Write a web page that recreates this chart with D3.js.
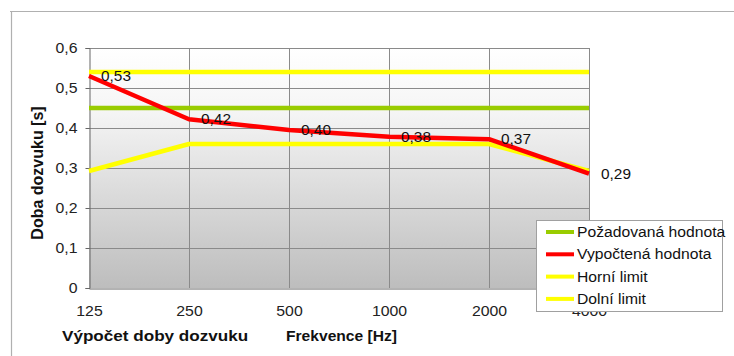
<!DOCTYPE html>
<html>
<head>
<meta charset="utf-8">
<script src="https://cdn.jsdelivr.net/npm/d3@7"></script>
<style>
html,body{margin:0;padding:0;background:#fff;}
svg{display:block;font-family:"Liberation Sans",Arial,sans-serif;}
</style>
</head>
<body>
<svg id="chart" width="734" height="356"></svg>
<script>
const categories = ["125", "250", "500", "1000", "2000", "4000"];
const pozadovana = [0.45, 0.45, 0.45, 0.45, 0.45, 0.45];
const vypoctena = [0.53, 0.422, 0.395, 0.378, 0.372, 0.286];
const horniLimit = [0.54, 0.54, 0.54, 0.54, 0.54, 0.54];
const dolniLimit = [0.2925, 0.36, 0.36, 0.36, 0.36, 0.2925];
const yTicks = [0, 0.1, 0.2, 0.3, 0.4, 0.5, 0.6];
const seriesNames = ["Požadovaná hodnota", "Vypočtená hodnota", "Horní limit", "Dolní limit"];
const seriesColors = ["#99cc00", "#ff0000", "#ffff00", "#ffff00"];

const svg = d3.select("#chart");
const pLeft = 89, pRight = 589, pTop = 48, pBottom = 288;
const x = d3.scalePoint().domain(categories).range([pLeft, pRight]);
const y = d3.scaleLinear().domain([0, 0.6]).range([pBottom, pTop]);
const fmt = v => d3.format(".2f")(v).replace(".", ",");

function stretch(sel, k) {
  sel.each(function () {
    const w = this.getComputedTextLength();
    d3.select(this).attr("textLength", w * k).attr("lengthAdjust", "spacingAndGlyphs");
  });
}

// outer frame
svg.append("line").attr("x1", 10).attr("x2", 734).attr("y1", 11.5).attr("y2", 11.5).attr("stroke", "#b0b0b0").attr("stroke-width", 1.2);
svg.append("line").attr("x1", 11.5).attr("x2", 11.5).attr("y1", 11).attr("y2", 356).attr("stroke", "#b0b0b0").attr("stroke-width", 1.2);

// plot background gradient
const defs = svg.append("defs");
const grad = defs.append("linearGradient").attr("id", "bg").attr("x1", 0).attr("y1", 0).attr("x2", 0).attr("y2", 1);
grad.append("stop").attr("offset", "0%").attr("stop-color", "#ffffff");
grad.append("stop").attr("offset", "25%").attr("stop-color", "#f6f6f6");
grad.append("stop").attr("offset", "100%").attr("stop-color", "#bdbdbd");
svg.append("rect").attr("x", pLeft).attr("y", pTop).attr("width", pRight - pLeft).attr("height", pBottom - pTop).attr("fill", "url(#bg)");

// gridlines
svg.append("g").selectAll("line").data(yTicks.filter(d => d > 0)).join("line")
  .attr("x1", pLeft).attr("x2", pRight).attr("y1", d => Math.round(y(d)) + 0.5).attr("y2", d => Math.round(y(d)) + 0.5)
  .attr("stroke", "#8a8a8a").attr("stroke-width", 1);
svg.append("g").selectAll("line").data(categories.slice(1)).join("line")
  .attr("x1", d => x(d) + 0.5).attr("x2", d => x(d) + 0.5).attr("y1", pTop).attr("y2", pBottom)
  .attr("stroke", "#8a8a8a").attr("stroke-width", 1);

// axes
const yAxis = d3.axisLeft(y).tickValues(yTicks).tickSize(4).tickPadding(8).tickFormat(d => d === 0 ? "0" : d3.format(".1f")(d).replace(".", ","));
const gy = svg.append("g").attr("transform", `translate(${pLeft + 0.5},0)`).call(yAxis);
gy.select(".domain").attr("stroke", "#666");
gy.selectAll(".tick line").attr("stroke", "#666");
gy.selectAll(".tick text").attr("font-size", 14).attr("fill", "#222").attr("font-family", "Liberation Sans, Arial, sans-serif").call(stretch, 1.13);

const xAxis = d3.axisBottom(x).tickSize(0).tickPadding(18);
const gx = svg.append("g").attr("transform", `translate(0,${pBottom + 0.5})`).call(xAxis);
gx.select(".domain").attr("stroke", "#666");
gx.selectAll(".tick text").attr("font-size", 14).attr("fill", "#222").attr("font-family", "Liberation Sans, Arial, sans-serif").call(stretch, 1.13);

// series
const allSeries = [pozadovana, vypoctena, horniLimit, dolniLimit];
const line = d3.line().x((d, i) => x(categories[i])).y(d => y(d));
const drawOrder = [0, 3, 2, 1];
drawOrder.forEach(si => {
  svg.append("path").datum(allSeries[si]).attr("d", line)
    .attr("fill", "none").attr("stroke", seriesColors[si]).attr("stroke-width", 4.5)
    .attr("stroke-linejoin", "round").attr("stroke-linecap", "butt");
});

// data labels
svg.append("g").selectAll("text").data(vypoctena).join("text")
  .attr("x", (d, i) => x(categories[i]) + 12).attr("y", d => y(d) + 5)
  .attr("font-size", 14).attr("fill", "#111").text(d => fmt(d)).call(stretch, 1.1);

// axis titles
svg.append("text").attr("transform", "translate(43,173) rotate(-90)").attr("text-anchor", "middle")
  .attr("font-size", 16).attr("font-weight", "bold").attr("fill", "#111").text("Doba dozvuku [s]");
svg.append("text").attr("x", 62).attr("y", 341).attr("font-size", 15).attr("font-weight", "bold").attr("fill", "#111").text("Výpočet doby dozvuku").call(stretch, 1.14);
svg.append("text").attr("x", 286).attr("y", 341).attr("font-size", 15).attr("font-weight", "bold").attr("fill", "#111").text("Frekvence [Hz]").call(stretch, 1.04);

// legend
const lg = svg.append("g");
lg.append("rect").attr("x", 536.5).attr("y", 220.5).attr("width", 186).attr("height", 91)
  .attr("fill", "#fff").attr("stroke", "#a0a0a0");
seriesNames.forEach((name, i) => {
  const yy = 232 + i * 22.3;
  lg.append("line").attr("x1", 546).attr("x2", 574).attr("y1", yy).attr("y2", yy)
    .attr("stroke", seriesColors[i]).attr("stroke-width", 4);
  lg.append("text").attr("x", 577).attr("y", yy + 5).attr("font-size", 14).attr("fill", "#111").text(name).call(stretch, 1.12);
});
</script>
</body>
</html>
